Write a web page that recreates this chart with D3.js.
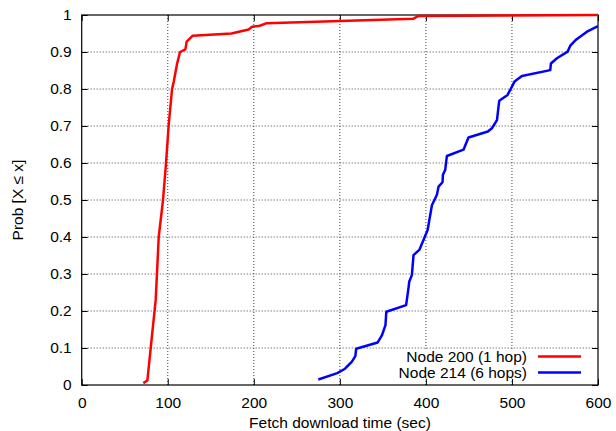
<!DOCTYPE html>
<html><head><meta charset="utf-8">
<script src="https://cdn.jsdelivr.net/npm/d3@7"></script>
<style>body{margin:0;background:#fff}text{font-family:"Liberation Sans",Arial,sans-serif;font-size:15.5px;fill:#000}</style>
</head><body><svg id="c" width="616" height="431"></svg>
<script>
const xTicks = [0,100,200,300,400,500,600];
const yTicks = [0,0.1,0.2,0.3,0.4,0.5,0.6,0.7,0.8,0.9,1];
const yTickLabels = ["0","0.1","0.2","0.3","0.4","0.5","0.6","0.7","0.8","0.9","1"];
const seriesNames = ["Node 200 (1 hop)","Node 214 (6 hops)"];
const seriesColors = ["#ff0000","#0000ff"];
const node200X = [71.6,76.3,80.2,86,89.5,94.5,98,101,105,107,111,114.3,120.5,122,129,174,194,198,207,215,385.6,391,600];
const node200Y = [0.005,0.012,0.1,0.23,0.4,0.5,0.6,0.7,0.8,0.82,0.87,0.9,0.907,0.928,0.944,0.95,0.961,0.968,0.971,0.978,0.99,0.997,1.0];
const node214X = [275,297,306,314,318,319,344,349,353,354,377,380,380.6,383.7,385.6,392.6,402,407,412.8,414.7,419.3,419.8,422.4,424.4,443.7,449.5,472,476.7,482.6,485.2,494.9,503,511.6,544.5,545.3,552.3,564.7,567.8,574.8,587.2,600];
const node214Y = [0.015,0.032,0.044,0.063,0.078,0.098,0.115,0.135,0.162,0.198,0.216,0.266,0.279,0.297,0.351,0.366,0.419,0.486,0.514,0.536,0.548,0.568,0.581,0.619,0.636,0.669,0.685,0.694,0.716,0.768,0.784,0.82,0.835,0.851,0.869,0.883,0.901,0.917,0.934,0.955,0.97];

(function(){
const svg = d3.select("#c");
const L=81.7,R=598,T=15,B=385;
const FS="15.5px";
const x = d3.scaleLinear().domain([0,600]).range([L,R]);
const y = d3.scaleLinear().domain([0,1]).range([B,T]);

// grid
const g = svg.append("g");
g.selectAll(".gx").data(xTicks.slice(1,-1)).enter().append("line")
 .attr("x1",d=>x(d)).attr("x2",d=>x(d)).attr("y1",B).attr("y2",T)
 .attr("stroke","#444").attr("stroke-width",1).attr("stroke-dasharray","1,2");
g.selectAll(".gy").data(yTicks.slice(1,-1)).enter().append("line")
 .attr("y1",d=>y(d)).attr("y2",d=>y(d)).attr("x1",L).attr("x2",R)
 .attr("stroke","#444").attr("stroke-width",1).attr("stroke-dasharray","1,2");

// legend background
svg.append("rect").attr("x",396).attr("y",349.5).attr("width",R-396-0.5).attr("height",29).attr("fill","#fff");

// axes with inward ticks (mirrored)
const ax = (gen,tr)=>{const a=svg.append("g").attr("transform",tr).call(gen);a.select(".domain").remove();return a;};
ax(d3.axisBottom(x).tickValues(xTicks).tickSizeInner(-6).tickSizeOuter(0).tickPadding(12),`translate(0,${B})`);
ax(d3.axisTop(x).tickValues(xTicks).tickSizeInner(-6).tickSizeOuter(0).tickFormat(""),`translate(0,${T})`);
ax(d3.axisLeft(y).tickValues(yTicks).tickSizeInner(-6).tickSizeOuter(0).tickPadding(10).tickFormat((d,i)=>yTickLabels[i]),`translate(${L},0)`);
ax(d3.axisRight(y).tickValues(yTicks).tickSizeInner(-6).tickSizeOuter(0).tickFormat(""),`translate(${R},0)`);
svg.selectAll(".tick text").style("font-family","'Liberation Sans',Arial,sans-serif").style("font-size",FS).attr("fill","#000");
svg.selectAll(".tick line").attr("stroke","#000");

// border
svg.append("rect").attr("x",L).attr("y",T).attr("width",R-L).attr("height",B-T)
 .attr("fill","none").attr("stroke","#000").attr("stroke-width",1.2);

// curves
svg.append("defs").append("clipPath").attr("id","clip").append("rect").attr("x",L).attr("y",T-2).attr("width",R-L).attr("height",B-T+2);
const line = d3.line().x(d=>x(d[0])).y(d=>y(d[1]));
const data = [d3.zip(node200X,node200Y), d3.zip(node214X,node214Y)];
data.forEach((d,i)=>svg.append("path").attr("d",line(d)).attr("fill","none")
 .attr("stroke",seriesColors[i]).attr("stroke-width",2.5).attr("stroke-linejoin","round").attr("clip-path","url(#clip)"));

// legend
seriesNames.forEach((n,i)=>{
 const yy=356.5+i*16;
 svg.append("text").attr("x",527).attr("y",yy+5).attr("text-anchor","end").text(n);
 svg.append("line").attr("x1",538).attr("x2",581).attr("y1",yy).attr("y2",yy).attr("stroke",seriesColors[i]).attr("stroke-width",2.5);
});

// axis labels
svg.append("text").attr("x",340).attr("y",428).attr("text-anchor","middle").text("Fetch download time (sec)");
svg.append("text").attr("transform","translate(23,200) rotate(-90)").attr("text-anchor","middle").text("Prob [X \u2264 x]");
})();
</script></body></html>
